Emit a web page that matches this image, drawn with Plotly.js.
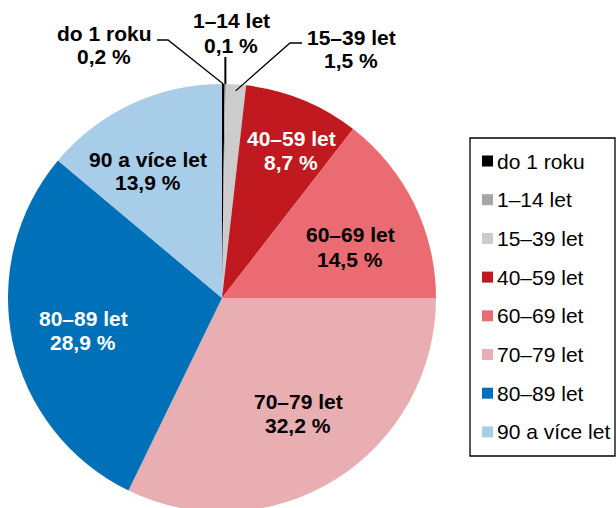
<!DOCTYPE html>
<html><head><meta charset="utf-8">
<script src="https://cdn.plot.ly/plotly-3.0.1.min.js"></script>
<style>html,body{margin:0;padding:0;overflow:hidden;background:#fff;}#chart{width:616px;height:516px;}</style>
</head><body><div id="chart"></div>
<script>
// ---- data ----
const categories = ['do 1 roku', '1–14 let', '15–39 let', '40–59 let', '60–69 let', '70–79 let', '80–89 let', '90 a více let'];
const shares = [0.2, 0.1, 1.5, 8.7, 14.5, 32.2, 28.9, 13.9];
const sliceColors = ['#000000', '#a6a6a6', '#cccccc', '#c0191f', '#eb6b73', '#e8aeb1', '#0070b9', '#a7cde8'];
const labelColors = ['#000000', '#000000', '#000000', '#ffffff', '#000000', '#000000', '#ffffff', '#000000'];

// ---- layout constants (pixels) ----
const W = 616, H = 516;
const CX = 222, CY = 298, R = 214;
const FONT = 'Liberation Sans, Arial, Helvetica, sans-serif';
const labelAnchors = [[104, 45], [231, 33], [351, 49], [291, 150], [350, 247], [298, 413], [83, 330], [148, 171]];
const LINE_GAP = 24;
const px = x => x / W, py = y => 1 - y / H;

function fmt(v) { return v.toFixed(1).replace('.', ',') + ' %'; }

// mid angle of each slice (clockwise from 12 o'clock)
const total = shares.reduce((a, b) => a + b, 0);
let cum = 0;
const midAngles = shares.map(v => { const m = (cum + v / 2) / total * 2 * Math.PI; cum += v; return m; });
function edge(i, f) { const a = midAngles[i]; return [CX + R * f * Math.sin(a), CY - R * f * Math.cos(a)]; }

const annotations = [];
categories.forEach((c, i) => {
  [c, fmt(shares[i])].forEach((t, k) => {
    annotations.push({
      x: px(labelAnchors[i][0]), y: py(labelAnchors[i][1] + (k - 0.5) * LINE_GAP), xref: 'paper', yref: 'paper',
      xanchor: 'center', yanchor: 'middle', showarrow: false,
      text: '<b>' + t + '</b>', font: {family: FONT, size: 21, color: labelColors[i]}
    });
  });
});

// leader lines for small slices
const e0 = edge(0, 1.0), e1 = edge(1, 1.0), e2 = edge(2, 0.97);
const shapes = [
  {type: 'path', xref: 'paper', yref: 'paper', line: {color: '#000', width: 1.3},
   path: `M ${px(157)},${py(40)} L ${px(168)},${py(40)} L ${px(e0[0])},${py(e0[1])}`},
  {type: 'path', xref: 'paper', yref: 'paper', line: {color: '#000', width: 2},
   path: `M ${px(e1[0])},${py(57)} L ${px(e1[0])},${py(e1[1])}`},
  {type: 'path', xref: 'paper', yref: 'paper', line: {color: '#000', width: 1.3},
   path: `M ${px(302)},${py(43)} L ${px(290)},${py(43)} L ${px(e2[0])},${py(e2[1])}`},
  // legend box
  {type: 'rect', xref: 'paper', yref: 'paper', x0: px(470), x1: px(615), y0: py(138), y1: py(456),
   line: {color: '#000', width: 1.3}, fillcolor: 'rgba(0,0,0,0)'}
];
// legend entries
categories.forEach((c, i) => {
  const yc = 161 + i * 38.7;
  shapes.push({type: 'rect', xref: 'paper', yref: 'paper', x0: px(482), x1: px(493), y0: py(yc - 5.5), y1: py(yc + 5.5),
    line: {width: 0}, fillcolor: sliceColors[i]});
  annotations.push({x: px(495), y: py(yc), xref: 'paper', yref: 'paper', xanchor: 'left', yanchor: 'middle',
    showarrow: false, text: c, font: {family: FONT, size: 21, color: '#000'}});
});

const trace = {
  type: 'pie', labels: categories, values: shares, sort: false, direction: 'clockwise', rotation: 0,
  marker: {colors: sliceColors, line: {width: 0}}, textinfo: 'none', hoverinfo: 'label+value',
  domain: {x: [px(CX - R), px(CX + R)], y: [py(CY + R), py(CY - R)]}, showlegend: false
};

Plotly.newPlot('chart', [trace], {
  width: W, height: H, margin: {l: 0, r: 0, t: 0, b: 0}, showlegend: false,
  paper_bgcolor: '#fff', plot_bgcolor: '#fff', annotations, shapes
}, {staticPlot: true});
</script></body></html>
